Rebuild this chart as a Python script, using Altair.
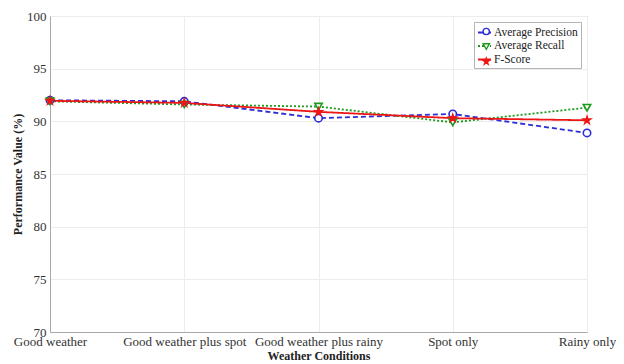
import altair as alt
import pandas as pd

conditions = ["Good weather", "Good weather plus spot", "Good weather plus rainy", "Spot only", "Rainy only"]
series = ["Average Precision", "Average Recall", "F-Score"]
precision = [92.0, 91.9, 90.3, 90.7, 88.9]
recall = [91.9, 91.6, 91.4, 89.9, 91.3]
fscore = [91.95, 91.75, 90.9, 90.3, 90.1]
y_ticks = [70, 75, 80, 85, 90, 95, 100]

markers = [s + " (marker)" for s in series]

rows = []
for s, m, vals in zip(series, markers, [precision, recall, fscore]):
    for c, v in zip(conditions, vals):
        rows.append({"Condition": c, "Series": s, "Marker": m, "Value": v})
df = pd.DataFrame(rows)

colors = ["#2c2cd8", "#1c9a1c", "#ee1515"]
fills = ["white", "white", "#ee1515"]
star = ("M0,-1L0.2245,-0.309L0.9511,-0.309L0.3633,0.118L0.5878,0.809L0,0.382"
        "L-0.5878,0.809L-0.3633,0.118L-0.9511,-0.309L-0.2245,-0.309Z")
shapes = ["circle", "triangle-down", star]
dashes = [[5, 3], [2, 2], [1, 0]]

FONT = "Liberation Serif"
LX, LY = 424, 6

x = alt.X("Condition:N", sort=conditions,
          scale=alt.Scale(type="point", padding=0),
          axis=alt.Axis(title="Weather Conditions", labelAngle=0, labelOverlap=False,
                        labelBound=False, labelPadding=3, titlePadding=2, ticks=False))
y = alt.Y("Value:Q", scale=alt.Scale(domain=[70, 100], nice=False, zero=False),
          axis=alt.Axis(title="Performance Value (%)", values=y_ticks, ticks=False,
                        labelPadding=4, titlePadding=2))

line_legend = alt.Legend(title=None, orient="none", legendX=LX, legendY=LY,
                         strokeColor="#b5b5b5", fillColor="white", padding=3,
                         labelFont=FONT, labelFontSize=11.5, labelColor="#222222",
                         symbolType="stroke", symbolSize=169, rowPadding=0.5,
                         symbolStrokeWidth=1.8, labelOffset=2)
marker_legend = alt.Legend(title=None, orient="none", legendX=LX + 3.5, legendY=LY + 0.75,
                           padding=3, labelExpr="''", labelFont=FONT, labelFontSize=11.5,
                           symbolSize=40, rowPadding=2,
                           symbolStrokeWidth=1.4, labelOffset=0)

color = alt.Color("Series:N", scale=alt.Scale(domain=series, range=colors), legend=line_legend)
dash = alt.StrokeDash("Series:N", scale=alt.Scale(domain=series, range=dashes), legend=line_legend)
mstroke = alt.Stroke("Marker:N", scale=alt.Scale(domain=markers, range=colors), legend=marker_legend)
shape = alt.Shape("Marker:N", scale=alt.Scale(domain=markers, range=shapes), legend=marker_legend)
fill = alt.Fill("Marker:N", scale=alt.Scale(domain=markers, range=fills), legend=marker_legend)

lines = alt.Chart(df).mark_line(strokeWidth=1.8).encode(x=x, y=y, color=color, strokeDash=dash)
points = alt.Chart(df).mark_point(size=55, strokeWidth=1.6, opacity=1).encode(
    x=x, y=y, stroke=mstroke, shape=shape, fill=fill)

chart = (lines + points).properties(
    width=537, height=316,
    autosize=alt.AutoSizeParams(type="none"),
    padding={"left": 42, "top": 8, "right": 29, "bottom": 36},
).configure_view(stroke="#a8a8a8", strokeWidth=1).configure_axis(
    labelFont=FONT, titleFont=FONT, labelFontSize=13, titleFontSize=12,
    labelColor="#333333", titleColor="#222222", titleFontWeight="bold",
    domainColor="#a8a8a8", gridColor="#ececec", grid=True,
)

chart.save("out.html", embed_options={"renderer": "svg", "actions": False})
